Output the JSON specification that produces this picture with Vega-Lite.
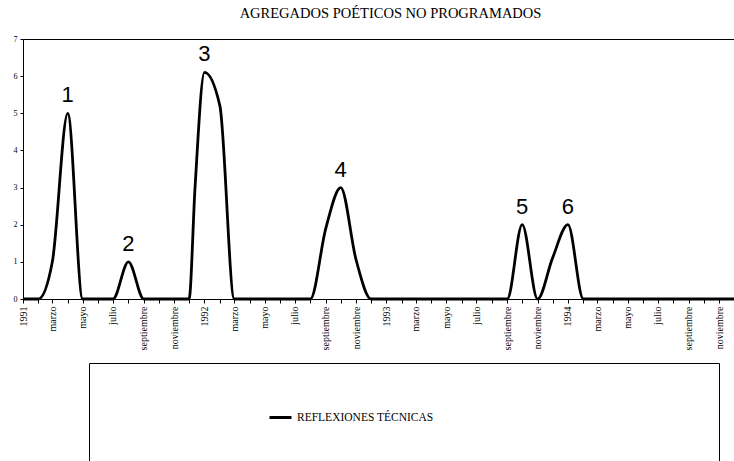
{
  "$schema": "https://vega.github.io/schema/vega-lite/v6.json",
  "width": 711,
  "height": 260,
  "autosize": {"type": "none"},
  "padding": {"left": 23, "top": 39, "right": 0, "bottom": 162},
  "background": "white",
  "title": {
    "text": "AGREGADOS POÉTICOS NO PROGRAMADOS",
    "font": "Liberation Serif",
    "fontSize": 14.5,
    "fontWeight": "normal",
    "color": "black",
    "anchor": "middle",
    "offset": 14,
    "dx": 12
  },
  "config": {
    "view": {"stroke": "black", "strokeWidth": 1},
    "axis": {
      "grid": false,
      "domainColor": "black",
      "tickColor": "black",
      "labelColor": "black",
      "labelFont": "Liberation Serif",
      "title": null
    },
    "legend": {
      "orient": "none",
      "legendX": 66,
      "legendY": 324,
      "padding": 42,
      "strokeColor": "black",
      "fillColor": "white",
      "titleOrient": "left",
      "titleFont": "DejaVu Sans",
      "titleFontSize": 11.7,
      "titlePadding": 0,
      "titleLimit": 1000,
      "symbolType": "stroke",
      "symbolSize": 484,
      "symbolStrokeWidth": 3,
      "symbolStrokeColor": "black",
      "labelFont": "Liberation Serif",
      "labelFontSize": 11.5,
      "labelColor": "black",
      "labelLimit": 1000,
      "labelOffset": 4
    }
  },
  "data": {
    "values": [
      {"fecha": "1991-01-01", "valor": 0, "serie": "REFLEXIONES TÉCNICAS"},
      {"fecha": "1991-02-01", "valor": 0, "serie": "REFLEXIONES TÉCNICAS"},
      {"fecha": "1991-03-01", "valor": 1, "serie": "REFLEXIONES TÉCNICAS"},
      {"fecha": "1991-04-01", "valor": 5, "serie": "REFLEXIONES TÉCNICAS", "pico": "1"},
      {"fecha": "1991-05-01", "valor": 0, "serie": "REFLEXIONES TÉCNICAS"},
      {"fecha": "1991-06-01", "valor": 0, "serie": "REFLEXIONES TÉCNICAS"},
      {"fecha": "1991-07-01", "valor": 0, "serie": "REFLEXIONES TÉCNICAS"},
      {"fecha": "1991-08-01", "valor": 1, "serie": "REFLEXIONES TÉCNICAS", "pico": "2"},
      {"fecha": "1991-09-01", "valor": 0, "serie": "REFLEXIONES TÉCNICAS"},
      {"fecha": "1991-10-01", "valor": 0, "serie": "REFLEXIONES TÉCNICAS"},
      {"fecha": "1991-11-01", "valor": 0, "serie": "REFLEXIONES TÉCNICAS"},
      {"fecha": "1991-12-01", "valor": 0, "serie": "REFLEXIONES TÉCNICAS"},
      {"fecha": "1991-12-13", "valor": 3, "serie": "REFLEXIONES TÉCNICAS"},
      {"fecha": "1992-01-01", "valor": 6.1, "serie": "REFLEXIONES TÉCNICAS", "pico": "3"},
      {"fecha": "1992-02-01", "valor": 5.2, "serie": "REFLEXIONES TÉCNICAS"},
      {"fecha": "1992-03-01", "valor": 0, "serie": "REFLEXIONES TÉCNICAS"},
      {"fecha": "1992-04-01", "valor": 0, "serie": "REFLEXIONES TÉCNICAS"},
      {"fecha": "1992-05-01", "valor": 0, "serie": "REFLEXIONES TÉCNICAS"},
      {"fecha": "1992-06-01", "valor": 0, "serie": "REFLEXIONES TÉCNICAS"},
      {"fecha": "1992-07-01", "valor": 0, "serie": "REFLEXIONES TÉCNICAS"},
      {"fecha": "1992-08-01", "valor": 0, "serie": "REFLEXIONES TÉCNICAS"},
      {"fecha": "1992-09-01", "valor": 1.9, "serie": "REFLEXIONES TÉCNICAS"},
      {"fecha": "1992-10-01", "valor": 3, "serie": "REFLEXIONES TÉCNICAS", "pico": "4"},
      {"fecha": "1992-11-01", "valor": 1.05, "serie": "REFLEXIONES TÉCNICAS"},
      {"fecha": "1992-12-01", "valor": 0, "serie": "REFLEXIONES TÉCNICAS"},
      {"fecha": "1993-01-01", "valor": 0, "serie": "REFLEXIONES TÉCNICAS"},
      {"fecha": "1993-02-01", "valor": 0, "serie": "REFLEXIONES TÉCNICAS"},
      {"fecha": "1993-03-01", "valor": 0, "serie": "REFLEXIONES TÉCNICAS"},
      {"fecha": "1993-04-01", "valor": 0, "serie": "REFLEXIONES TÉCNICAS"},
      {"fecha": "1993-05-01", "valor": 0, "serie": "REFLEXIONES TÉCNICAS"},
      {"fecha": "1993-06-01", "valor": 0, "serie": "REFLEXIONES TÉCNICAS"},
      {"fecha": "1993-07-01", "valor": 0, "serie": "REFLEXIONES TÉCNICAS"},
      {"fecha": "1993-08-01", "valor": 0, "serie": "REFLEXIONES TÉCNICAS"},
      {"fecha": "1993-09-01", "valor": 0, "serie": "REFLEXIONES TÉCNICAS"},
      {"fecha": "1993-10-01", "valor": 2, "serie": "REFLEXIONES TÉCNICAS", "pico": "5"},
      {"fecha": "1993-11-01", "valor": 0, "serie": "REFLEXIONES TÉCNICAS"},
      {"fecha": "1993-12-01", "valor": 1.1, "serie": "REFLEXIONES TÉCNICAS"},
      {"fecha": "1994-01-01", "valor": 2, "serie": "REFLEXIONES TÉCNICAS", "pico": "6"},
      {"fecha": "1994-02-01", "valor": 0, "serie": "REFLEXIONES TÉCNICAS"},
      {"fecha": "1994-03-01", "valor": 0, "serie": "REFLEXIONES TÉCNICAS"},
      {"fecha": "1994-04-01", "valor": 0, "serie": "REFLEXIONES TÉCNICAS"},
      {"fecha": "1994-05-01", "valor": 0, "serie": "REFLEXIONES TÉCNICAS"},
      {"fecha": "1994-06-01", "valor": 0, "serie": "REFLEXIONES TÉCNICAS"},
      {"fecha": "1994-07-01", "valor": 0, "serie": "REFLEXIONES TÉCNICAS"},
      {"fecha": "1994-08-01", "valor": 0, "serie": "REFLEXIONES TÉCNICAS"},
      {"fecha": "1994-09-01", "valor": 0, "serie": "REFLEXIONES TÉCNICAS"},
      {"fecha": "1994-10-01", "valor": 0, "serie": "REFLEXIONES TÉCNICAS"},
      {"fecha": "1994-11-01", "valor": 0, "serie": "REFLEXIONES TÉCNICAS"},
      {"fecha": "1994-12-01", "valor": 0, "serie": "REFLEXIONES TÉCNICAS"}
    ]
  },
  "encoding": {
    "x": {
      "field": "fecha",
      "type": "temporal",
      "scale": {
        "type": "utc",
        "domain": [
          {"year": 1991, "month": 1, "date": 1, "utc": true},
          {"year": 1994, "month": 12, "date": 1, "utc": true}
        ]
      },
      "axis": {
        "tickCount": {"interval": "month", "step": 1},
        "labelAngle": 270,
        "labelFontSize": 10,
        "labelOverlap": false,
        "labelFlush": false,
        "labelBound": false,
        "tickSize": 4,
        "labelPadding": 3,
        "labelExpr": "utcmonth(datum.value) == 0 ? utcFormat(datum.value, '%Y') : ['', '', 'marzo', '', 'mayo', '', 'julio', '', 'septiembre', '', 'noviembre', ''][utcmonth(datum.value)]"
      }
    },
    "y": {
      "field": "valor",
      "type": "quantitative",
      "scale": {"domain": [0, 7], "nice": false, "zero": true},
      "axis": {
        "values": [0, 1, 2, 3, 4, 5, 6, 7],
        "labelFontSize": 8,
        "tickSize": 3,
        "labelPadding": 3
      }
    }
  },
  "layer": [
    {
      "mark": {"type": "line", "interpolate": "monotone", "strokeWidth": 2.8},
      "encoding": {
        "color": {
          "field": "serie",
          "type": "nominal",
          "scale": {"range": ["black"]},
          "legend": {
            "title": "⠀⠀⠀⠀⠀⠀⠀⠀⠀⠀⠀⠀⠀⠀⠀",
            "labelExpr": "datum.label + '⠀⠀⠀⠀⠀⠀⠀⠀⠀⠀⠀⠀⠀⠀⠀⠀⠀⠀⠀⠀⠀⠀⠀⠀⠀⠀⠀'"
          }
        }
      }
    },
    {
      "transform": [{"filter": "datum.pico != null"}],
      "mark": {
        "type": "text",
        "font": "Liberation Sans",
        "fontSize": 22,
        "color": "black",
        "baseline": "middle",
        "dy": -18
      },
      "encoding": {
        "text": {"field": "pico", "type": "nominal"}
      }
    }
  ]
}
